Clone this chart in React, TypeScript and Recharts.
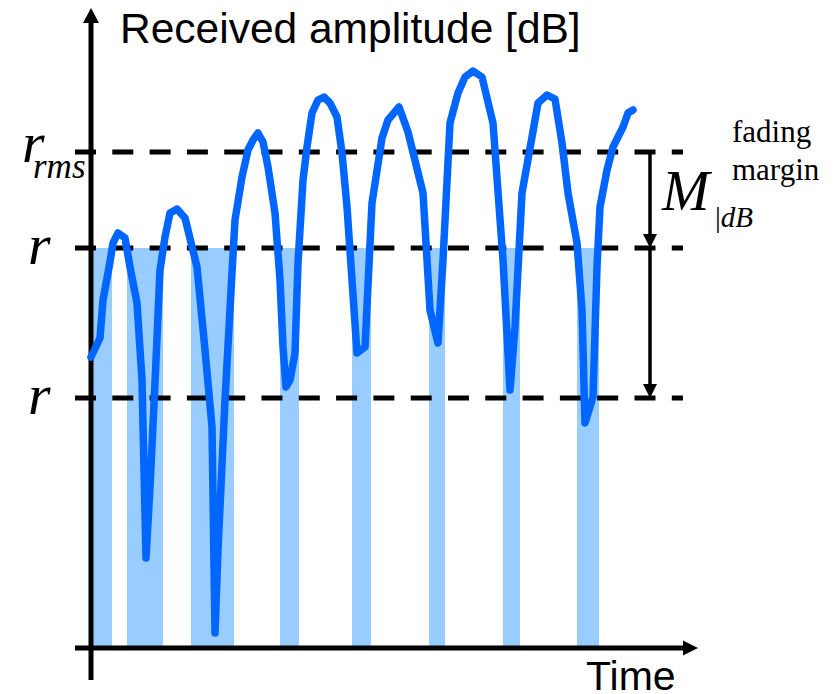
import React from 'react';
import { ComposedChart, Line, XAxis, YAxis, ReferenceLine, ReferenceArea } from 'recharts';

// received signal (time units, amplitude in dB-ish units; 0 = time axis)
const time = [
  0, 0.9, 1.2, 1.9, 2.2, 2.7, 3.4, 3.9, 4.6, 5.1, 5.5, 5.9, 6.4, 6.9, 7.4, 7.9, 8.6, 9.4,
  10.6, 11.4, 12.1, 12.4, 12.7, 13.4, 14.1, 14.4, 15.1, 15.7, 16.2, 16.7, 17.2, 17.7, 18.4,
  18.9, 19.2, 19.5, 19.9, 20.4, 20.7, 21.2, 21.6, 22.1, 22.7, 23.3, 23.9, 24.6, 25.1, 25.6,
  26.1, 26.6, 27.4, 28.1, 29.1, 29.7, 30.8, 31.7, 33.2, 33.9, 34.7, 35.2, 35.9, 36.7, 37.4,
  38.2, 39.1, 40.2, 41.2, 41.9, 42.4, 43.1, 44.1, 44.7, 45.6, 46.4, 47.1, 47.7, 48.6, 49.1,
  49.4, 50.2, 50.6, 50.9, 51.6, 52.2, 53.2, 53.7, 54.2,
];
const amplitude = [
  29.1, 31.0, 34.8, 38.6, 40.5, 41.5, 41.0, 38.1, 34.5, 26.8, 9.0, 16.1, 26.5, 37.8, 41.1, 43.5, 43.9, 43.0,
  38.1, 29.8, 22.1, 1.5, 9.8, 24.8, 37.5, 42.8, 47.1, 49.8, 50.8, 51.5, 50.6, 48.1, 43.5,
  36.8, 30.1, 26.1, 26.8, 29.5, 38.5, 46.8, 50.1, 53.5, 54.8, 55.1, 54.5, 53.1, 49.5, 44.1,
  36.8, 29.5, 30.1, 44.5, 51.0, 52.8, 54.1, 51.6, 45.5, 33.8, 30.5, 38.8, 52.5, 55.5, 57.1,
  57.7, 57.1, 52.5, 38.8, 25.8, 32.1, 45.5, 51.1, 54.5, 55.3, 54.9, 50.5, 45.5, 40.5, 33.8,
  22.5, 25.1, 38.1, 44.1, 47.8, 50.1, 52.1, 53.5, 53.8,
];

// intervals where the signal is below the threshold r
const fadeStart = [0, 3.6, 10.0, 18.9, 26.1, 33.8, 41.2, 48.6];
const fadeEnd = [2.1, 7.2, 14.3, 20.8, 28.0, 35.4, 42.9, 50.8];

const rRms = 49.6;
const rUpper = 40;
const rLower = 25;

const data = time.map((t, i) => ({ t, a: amplitude[i] }));

const serif = '"Liberation Serif", "Times New Roman", serif';
const sans = '"Liberation Sans", Arial, sans-serif';

const arrowShape = (head: number, headWidth: number, width: number) => (p: any) => {
  const { x1, y1, x2, y2 } = p;
  const len = Math.hypot(x2 - x1, y2 - y1) || 1;
  const ux = (x2 - x1) / len;
  const uy = (y2 - y1) / len;
  const bx = x2 - ux * head;
  const by = y2 - uy * head;
  const px = -uy * (headWidth / 2);
  const py = ux * (headWidth / 2);
  return (
    <g>
      <line x1={x1} y1={y1} x2={bx + ux} y2={by + uy} stroke="#000" strokeWidth={width} />
      <polygon points={`${x2},${y2} ${bx + px},${by + py} ${bx - px},${by - py}`} fill="#000" />
    </g>
  );
};

const levelLabel = (sub?: string) => (p: any) => {
  const { x, y } = p.viewBox;
  if (sub) {
    return (
      <text fontFamily={serif} fontStyle="italic" fill="#000">
        <tspan x={x - 53} y={y + 10} fontSize={58}>r</tspan>
        <tspan x={x - 42} y={y + 26} fontSize={35}>{sub}</tspan>
      </text>
    );
  }
  return (
    <text x={x - 47} y={y + 16} fontFamily={serif} fontStyle="italic" fontSize={58} fill="#000">r</text>
  );
};

export default function App() {
  return (
    <div style={{ position: 'absolute', left: 0, top: 0, background: '#fff' }}>
      <ComposedChart width={836} height={694} data={data} margin={{ top: 0, right: 0, bottom: 0, left: 0 }}>
        <XAxis type="number" dataKey="t" domain={[-9.1, 74.5]} allowDataOverflow hide />
        <YAxis type="number" domain={[-4.6, 64.8]} allowDataOverflow hide />

        {fadeStart.map((s, i) => (
          <ReferenceArea
            key={i}
            x1={s}
            x2={fadeEnd[i]}
            y1={0}
            y2={rUpper}
            fill="#99CCFF"
            fillOpacity={1}
            stroke="none"
            zIndex={100}
          />
        ))}

        <ReferenceLine
          segment={[{ x: 0, y: -3.2 }, { x: 0, y: 64 }]}
          shape={arrowShape(15, 16, 5)}
          zIndex={200}
          label={(p: any) => (
            <text x={p.viewBox.x + 29} y={p.viewBox.y + 35} fontFamily={sans} fontSize={42.5} fill="#000">
              Received amplitude [dB]
            </text>
          )}
        />
        <ReferenceLine
          segment={[{ x: -1.6, y: 0 }, { x: 60.7, y: 0 }]}
          shape={arrowShape(15, 15, 5)}
          zIndex={200}
          label={(p: any) => (
            <text x={p.viewBox.x + p.viewBox.width - 112} y={p.viewBox.y + 42} fontFamily={sans} fontSize={41} fill="#000">
              Time
            </text>
          )}
        />

        <ReferenceLine
          segment={[{ x: -1.6, y: rRms }, { x: 59.2, y: rRms }]}
          stroke="#000"
          strokeWidth={5}
          strokeDasharray="21 16.3"
          zIndex={300}
          label={levelLabel('rms')}
        />
        <ReferenceLine
          segment={[{ x: -1.6, y: rUpper }, { x: 59.2, y: rUpper }]}
          stroke="#000"
          strokeWidth={5}
          strokeDasharray="21 16.3"
          zIndex={300}
          label={levelLabel()}
        />
        <ReferenceLine
          segment={[{ x: -1.6, y: rLower }, { x: 59.2, y: rLower }]}
          stroke="#000"
          strokeWidth={5}
          strokeDasharray="21 16.3"
          zIndex={300}
          label={levelLabel()}
        />

        <ReferenceLine
          segment={[{ x: 55.9, y: rRms }, { x: 55.9, y: rUpper }]}
          shape={arrowShape(14, 14, 3.5)}
          zIndex={300}
          label={(p: any) => {
            const { x, y } = p.viewBox;
            return (
              <g fill="#000">
                <text x={x + 12} y={y + 58} fontFamily={serif} fontStyle="italic" fontSize={57}>M</text>
                <text x={x + 65} y={y + 75} fontFamily={serif} fontSize={29}>
                  |<tspan fontStyle="italic">dB</tspan>
                </text>
                <text x={x + 82} y={y - 10} fontFamily={serif} fontSize={31}>fading</text>
                <text x={x + 82} y={y + 28} fontFamily={serif} fontSize={31}>margin</text>
              </g>
            );
          }}
        />
        <ReferenceLine
          segment={[{ x: 55.9, y: rUpper }, { x: 55.9, y: rLower }]}
          shape={arrowShape(14, 14, 3.5)}
          zIndex={300}
        />

        <Line
          type="linear"
          dataKey="a"
          stroke="#0066FF"
          strokeWidth={7.5}
          strokeLinejoin="round"
          strokeLinecap="round"
          dot={false}
          activeDot={false}
          isAnimationActive={false}
          zIndex={400}
        />
      </ComposedChart>
    </div>
  );
}
